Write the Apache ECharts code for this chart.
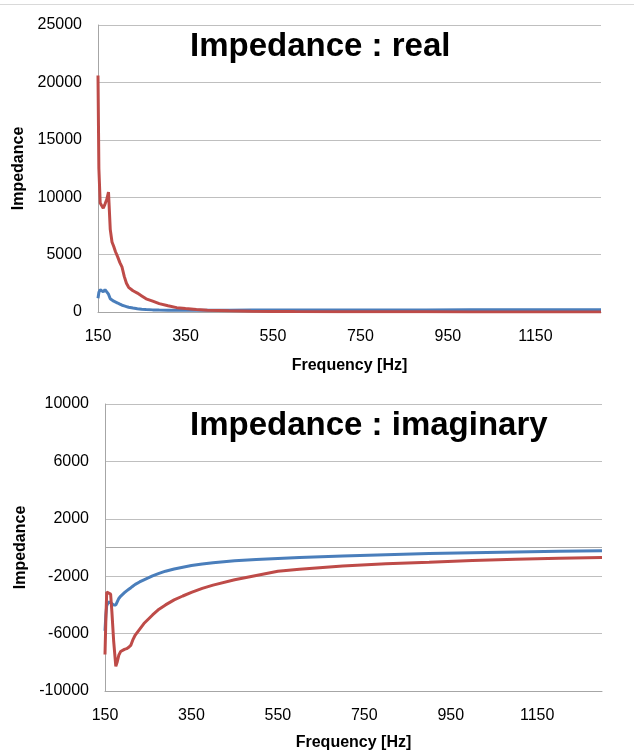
<!DOCTYPE html>
<html>
<head>
<meta charset="utf-8">
<script src="https://cdn.jsdelivr.net/npm/echarts@6/dist/echarts.min.js"></script>
<style>
    html, body { margin: 0; padding: 0; background: #fff; }
    #chart { width: 634px; height: 753px; }
</style>
</head>
<body>
<div id="chart"></div>
<script>
// frequency samples (Hz)
var realFreq = [150, 152, 155, 158, 162, 166, 170, 174, 178, 182, 186, 190, 195, 200, 205, 210, 215, 220, 230, 240,
    250, 260, 275, 290, 310, 330, 350, 375, 400, 450, 500, 550, 600, 700, 800, 900, 1000, 1100, 1200, 1300];
var realBlue = [1200, 1700, 1950, 1850, 1750, 1950, 1850, 1550, 1150, 1000, 940, 880, 780, 680, 590, 530, 470, 410, 340, 280,
    240, 210, 185, 170, 160, 155, 155, 155, 160, 160, 165, 170, 170, 175, 180, 185, 190, 195, 200, 200];
var realRed = [20600, 12500, 9500, 9300, 9050, 9400, 9800, 10450, 7200, 6100, 5700, 5250, 4800, 4300, 3900, 3100, 2500, 2150, 1850, 1650,
    1400, 1150, 950, 730, 540, 380, 300, 210, 150, 100, 70, 50, 40, 30, 20, 15, 10, 8, 5, 5];

var imagFreq = [150, 152, 154, 158, 163, 166, 170, 175, 178, 182, 186, 190, 195, 200, 205, 210, 215, 220, 230, 240,
    250, 260, 275, 290, 310, 330, 350, 375, 400, 450, 500, 550, 600, 700, 800, 900, 1000, 1100, 1200, 1300];
var imagBlue = [-5800, -4700, -4050, -3800, -3850, -3900, -4000, -4000, -3800, -3550, -3400, -3280, -3150, -3020, -2910, -2800, -2680, -2570, -2400, -2250,
    -2120, -1980, -1800, -1650, -1500, -1370, -1260, -1150, -1060, -930, -840, -760, -700, -590, -500, -420, -360, -310, -265, -225];
var imagRed = [-7460, -5000, -3100, -3150, -3250, -4500, -6500, -8280, -8000, -7500, -7250, -7150, -7100, -7050, -6950, -6800, -6400, -6100, -5700, -5300,
    -5000, -4700, -4300, -4000, -3650, -3380, -3130, -2850, -2620, -2250, -1950, -1660, -1520, -1290, -1130, -1020, -900, -820, -750, -690];

var BLUE = '#4A7EBB';
var RED = '#BE4B48';
var FONT = 'Liberation Sans';

function pairs(xs, ys) {
    return xs.map(function (x, i) {
        return [x, ys[i]];
    });
}

// plain numbers, no thousands separator
function plain(v) {
    return String(v);
}

function xAxis(gridIndex, gap) {
    return {
        type: 'value',
        gridIndex: gridIndex,
        min: 150,
        max: 1300,
        interval: 200,
        name: 'Frequency [Hz]',
        nameLocation: 'middle',
        nameGap: gap,
        nameTextStyle: { fontFamily: FONT, fontSize: 16, fontWeight: 'bold', color: '#000' },
        axisLine: { onZero: false, lineStyle: { color: '#A6A6A6', width: 1 } },
        axisTick: { show: false },
        axisLabel: { margin: 17, showMaxLabel: false, formatter: plain, fontFamily: FONT, fontSize: 16, color: '#000' },
        splitLine: { show: false }
    };
}

function yAxis(gridIndex, min, max, interval) {
    return {
        type: 'value',
        gridIndex: gridIndex,
        min: min,
        max: max,
        interval: interval,
        name: 'Impedance',
        nameLocation: 'middle',
        nameRotate: 90,
        nameGap: gridIndex ? 74 : 67,
        nameTextStyle: { fontFamily: FONT, fontSize: 16, fontWeight: 'bold', color: '#000' },
        axisLine: { show: true, lineStyle: { color: '#A6A6A6', width: 1 } },
        axisTick: { show: false },
        axisLabel: { margin: 16, formatter: plain, fontFamily: FONT, fontSize: 16, color: '#000' },
        splitLine: { show: true, lineStyle: { color: '#BFBFBF', width: 1 } }
    };
}

function line(name, axis, data, color, extra) {
    var s = {
        name: name,
        type: 'line',
        xAxisIndex: axis,
        yAxisIndex: axis,
        data: data,
        symbol: 'none',
        lineStyle: { color: color, width: 3 },
        itemStyle: { color: color },
        animation: false
    };
    return Object.assign(s, extra || {});
}

var chart = echarts.init(document.getElementById('chart'));

var option = {
    backgroundColor: '#fff',
    animation: false,
    title: [
        {
            text: 'Impedance : real',
            left: 190, top: 30, padding: 0,
            textStyle: { fontFamily: FONT, fontSize: 33, fontWeight: 'bold', color: '#000' }
        },
        {
            text: 'Impedance : imaginary',
            left: 190, top: 409, padding: 0,
            textStyle: { fontFamily: FONT, fontSize: 33, fontWeight: 'bold', color: '#000' }
        }
    ],
    graphic: [
        {
            type: 'line',
            shape: { x1: 0, y1: 4.5, x2: 634, y2: 4.5 },
            style: { stroke: '#D9D9D9', lineWidth: 1 },
            silent: true
        }
    ],
    grid: [
        { left: 98, top: 25, width: 503, height: 287 },
        { left: 105, top: 404, width: 497, height: 287 }
    ],
    xAxis: [xAxis(0, 46), xAxis(1, 44)],
    yAxis: [yAxis(0, 0, 25000, 5000), yAxis(1, -10000, 10000, 4000)],
    series: [
        line('real A', 0, pairs(realFreq, realBlue), BLUE),
        line('real B', 0, pairs(realFreq, realRed), RED),
        line('imag A', 1, pairs(imagFreq, imagBlue), BLUE, {
            markLine: {
                silent: true,
                symbol: 'none',
                label: { show: false },
                lineStyle: { color: '#A6A6A6', width: 1, type: 'solid' },
                data: [{ yAxis: 0 }]
            }
        }),
        line('imag B', 1, pairs(imagFreq, imagRed), RED)
    ]
};

chart.setOption(option);
</script>
</body>
</html>
